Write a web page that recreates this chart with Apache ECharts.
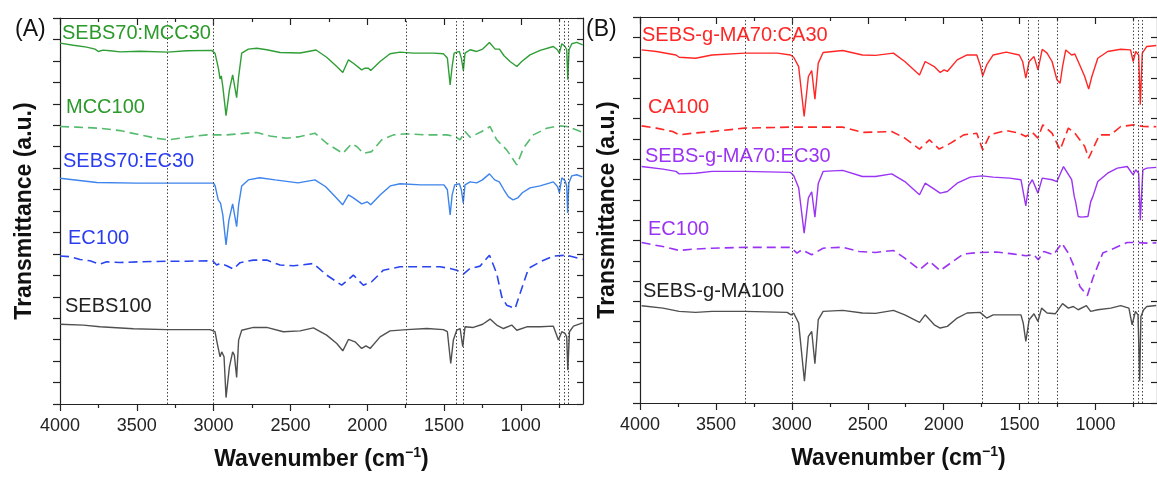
<!DOCTYPE html>
<html><head><meta charset="utf-8">
<script src="https://cdn.jsdelivr.net/npm/echarts@6/dist/echarts.min.js"></script>
<style>html,body{margin:0;padding:0;background:#fff}#c{width:1157px;height:477px}</style>
</head><body><div id="c"></div><script>
// ---------- DATA (wavenumber cm-1, transmittance a.u. with stacking offset) ----------
const majorTicks = [4000, 3500, 3000, 2500, 2000, 1500, 1000];
const minorTicks = [3750, 3250, 2750, 2250, 1750, 1250, 750];
const dottedA = [3300, 3000, 1745, 1421, 1375, 750, 717, 690];
const dottedB = [3310, 3000, 1745, 1443, 1378, 1255, 752, 718, 693];

// Panel A
const sebs70Mcc30 = [[4000,16.83],[3913,16.73],[3826,16.64],[3772,16.55],[3750,16.44],[3720,16.50],[3674,16.47],[3609,16.42],[3479,16.45],[3299,16.41],[3175,16.47],[3012,16.49],[2991,16.36],[2969,15.66],[2958,15.16],[2950,15.30],[2940,14.80],[2919,13.45],[2897,14.65],[2876,15.35],[2865,15.40],[2850,14.29],[2837,15.27],[2817,16.36],[2774,16.55],[2719,16.59],[2654,16.52],[2567,16.39],[2437,16.37],[2333,16.51],[2264,16.17],[2198,15.74],[2159,15.46],[2122,16.05],[2090,15.89],[2036,15.58],[2014,15.66],[1992,15.66],[1977,15.55],[1916,15.97],[1851,16.33],[1786,16.41],[1699,16.36],[1569,16.36],[1504,16.33],[1478,16.13],[1460,14.88],[1447,15.74],[1434,16.36],[1400,16.44],[1387,16.13],[1374,15.54],[1363,16.36],[1330,16.52],[1287,16.44],[1248,16.55],[1204,16.86],[1167,16.55],[1139,16.55],[1109,16.24],[1070,15.97],[1026,15.74],[994,15.97],[940,16.28],[874,16.49],[788,16.67],[762,16.52],[749,16.36],[733,16.80],[712,16.67],[701,16.52],[694,15.12],[686,16.52],[668,16.80],[636,16.86],[597,16.75]];
const mcc100 = [[4000,12.94],[3891,12.91],[3740,12.86],[3609,12.75],[3479,12.55],[3371,12.39],[3295,12.32],[3175,12.44],[3045,12.55],[2915,12.55],[2785,12.63],[2719,12.66],[2633,12.50],[2524,12.39],[2437,12.47],[2340,12.63],[2264,12.16],[2159,11.69],[2101,12.13],[2068,12.01],[2025,11.69],[1971,11.77],[1905,12.32],[1829,12.55],[1743,12.60],[1612,12.55],[1482,12.55],[1428,12.47],[1395,12.32],[1363,12.71],[1330,12.44],[1254,12.71],[1200,12.94],[1157,12.32],[1092,11.85],[1026,11.15],[983,11.93],[918,12.55],[831,12.86],[755,12.97],[701,12.94],[636,12.78],[597,12.66]];
const sebs70Ec30 = [[4000,10.53],[3760,10.33],[3500,10.30],[3000,10.30],[2990,10.17],[2970,9.52],[2955,9.37],[2940,8.82],[2919,7.42],[2900,8.59],[2876,9.33],[2866,9.38],[2850,8.27],[2837,9.29],[2817,10.17],[2774,10.45],[2700,10.55],[2600,10.45],[2450,10.31],[2340,10.45],[2270,10.13],[2200,9.61],[2160,9.29],[2122,9.75],[2090,9.61],[2036,9.33],[2000,9.43],[1977,9.29],[1916,9.75],[1850,10.17],[1786,10.27],[1650,10.22],[1500,10.22],[1478,9.99],[1460,8.82],[1447,9.75],[1430,10.22],[1400,10.27],[1387,9.99],[1375,9.38],[1363,10.22],[1330,10.36],[1287,10.31],[1250,10.45],[1204,10.73],[1170,10.45],[1140,10.36],[1110,9.99],[1080,9.66],[1050,9.52],[1020,9.61],[990,9.85],[940,10.08],[874,10.17],[788,10.36],[760,10.13],[749,9.85],[733,10.55],[712,10.41],[701,10.17],[695,8.91],[687,10.31],[668,10.64],[636,10.69],[600,10.59]];
const ec100A = [[4000,6.90],[3935,6.87],[3870,6.74],[3805,6.68],[3740,6.52],[3696,6.63],[3609,6.60],[3479,6.63],[3305,6.66],[3175,6.66],[3006,6.68],[2980,6.48],[2958,6.55],[2915,6.45],[2871,6.29],[2828,6.59],[2741,6.71],[2654,6.71],[2567,6.48],[2481,6.45],[2437,6.48],[2350,6.55],[2264,6.01],[2166,5.54],[2090,6.01],[2025,5.54],[1971,5.70],[1895,6.24],[1786,6.40],[1656,6.40],[1526,6.40],[1460,6.32],[1417,6.24],[1374,6.06],[1330,6.32],[1265,6.43],[1204,6.94],[1157,6.09],[1124,5.00],[1092,4.61],[1037,4.45],[1005,5.15],[950,6.32],[874,6.63],[788,6.90],[701,6.94],[597,6.74]];
const sebs100 = [[4000,3.72],[3848,3.68],[3740,3.60],[3522,3.51],[3305,3.47],[3023,3.47],[2991,3.37],[2976,2.82],[2958,2.20],[2947,2.43],[2932,2.20],[2919,0.30],[2897,1.73],[2876,2.43],[2865,2.28],[2850,1.24],[2837,2.98],[2817,3.44],[2741,3.57],[2654,3.57],[2546,3.37],[2437,3.41],[2350,3.55],[2264,3.21],[2198,2.82],[2159,2.48],[2122,3.01],[2079,2.90],[2036,2.59],[2008,2.71],[1981,2.59],[1916,3.13],[1851,3.41],[1743,3.47],[1612,3.52],[1504,3.47],[1478,3.37],[1456,1.89],[1439,2.98],[1417,3.44],[1395,3.52],[1378,2.67],[1363,3.60],[1309,3.57],[1248,3.72],[1200,3.96],[1157,3.68],[1113,3.52],[1059,3.68],[1026,3.44],[961,3.60],[874,3.60],[788,3.63],[755,2.98],[733,3.37],[712,3.29],[701,3.13],[694,1.58],[683,3.37],[657,3.63],[597,3.78]];

// Panel B
const maCa30 = [[3989,17.38],[3892,17.30],[3763,17.13],[3742,17.02],[3634,16.97],[3526,17.13],[3311,17.22],[3095,17.22],[3009,17.13],[2988,17.02],[2955,16.56],[2919,14.10],[2891,16.07],[2869,16.36],[2848,14.95],[2826,16.73],[2794,17.25],[2665,17.35],[2535,17.13],[2449,17.11],[2331,17.22],[2256,16.81],[2159,16.15],[2122,16.81],[2062,16.56],[2023,16.27],[1997,16.40],[1976,16.32],[1911,16.89],[1846,17.13],[1782,17.13],[1760,16.64],[1743,16.10],[1717,16.64],[1674,17.13],[1588,17.27],[1502,17.13],[1480,16.81],[1459,15.99],[1437,16.81],[1405,17.05],[1379,16.40],[1351,17.41],[1319,17.22],[1286,16.81],[1254,15.91],[1233,15.74],[1217,16.56],[1196,17.38],[1157,17.13],[1136,17.18],[1114,16.81],[1071,16.07],[1045,15.45],[1024,16.07],[985,16.97],[920,17.30],[834,17.41],[769,17.38],[752,16.81],[735,17.30],[716,17.13],[705,14.68],[692,17.22],[662,17.55],[600,17.60]];
const ca100 = [[3989,13.64],[3892,13.53],[3785,13.36],[3742,13.20],[3655,13.28],[3526,13.36],[3311,13.53],[3009,13.58],[2880,13.58],[2665,13.58],[2535,13.32],[2342,13.36],[2256,13.04],[2159,12.50],[2094,12.95],[2029,12.50],[1954,12.79],[1868,13.20],[1782,13.28],[1743,12.46],[1696,13.20],[1588,13.41],[1502,13.28],[1459,13.12],[1416,13.32],[1379,13.04],[1347,13.69],[1286,13.28],[1233,12.46],[1179,13.53],[1136,13.28],[1071,12.63],[1045,12.05],[974,13.20],[899,13.20],[834,13.61],[748,13.69],[683,13.61],[600,13.60]];
const maEc30 = [[3989,11.64],[3849,11.51],[3763,11.40],[3742,11.28],[3634,11.31],[3526,11.40],[3311,11.40],[3009,11.35],[2988,11.20],[2955,10.60],[2919,8.36],[2891,10.10],[2869,10.40],[2848,9.15],[2826,10.80],[2794,11.40],[2665,11.45],[2535,11.15],[2449,11.15],[2342,11.28],[2256,10.90],[2159,10.25],[2122,10.82],[2062,10.53],[2023,10.33],[1976,10.41],[1911,10.82],[1825,11.12],[1749,11.18],[1674,11.12],[1566,11.07],[1491,10.99],[1459,9.70],[1440,10.70],[1416,10.99],[1379,10.33],[1351,11.07],[1286,10.99],[1254,10.90],[1211,11.64],[1157,10.99],[1140,10.17],[1131,9.90],[1114,9.18],[1093,9.15],[1050,9.18],[1032,9.90],[1017,10.17],[985,10.90],[920,11.31],[856,11.56],[791,11.64],[752,11.23],[735,11.48],[716,11.31],[705,9.00],[688,11.48],[662,11.56],[600,11.60]];
const ec100B = [[3989,7.90],[3914,7.79],[3828,7.67],[3742,7.51],[3655,7.57],[3526,7.62],[3311,7.66],[3009,7.66],[2966,7.38],[2934,7.54],[2869,7.30],[2794,7.62],[2665,7.67],[2557,7.46],[2449,7.41],[2331,7.51],[2256,7.13],[2159,6.56],[2094,6.97],[2023,6.52],[1954,6.89],[1868,7.34],[1760,7.41],[1653,7.43],[1545,7.34],[1459,7.25],[1405,7.30],[1377,7.05],[1340,7.46],[1276,7.30],[1222,7.87],[1179,7.38],[1146,6.80],[1103,5.74],[1054,5.28],[1017,6.15],[952,7.38],[877,7.62],[791,7.90],[727,7.90],[662,7.87],[600,7.88]];
const maNeat = [[3989,4.79],[3849,4.67],[3742,4.51],[3634,4.46],[3526,4.51],[3311,4.51],[3031,4.46],[3005,4.34],[2988,4.43],[2955,3.93],[2917,1.07],[2891,3.28],[2869,3.52],[2848,1.93],[2826,4.10],[2794,4.51],[2665,4.56],[2535,4.43],[2449,4.41],[2331,4.56],[2256,4.34],[2159,3.97],[2122,4.34],[2062,3.85],[2023,3.69],[1976,3.77],[1911,4.18],[1846,4.43],[1760,4.46],[1717,4.18],[1674,4.34],[1566,4.34],[1491,4.34],[1476,3.93],[1459,3.03],[1437,4.10],[1405,4.39],[1379,4.02],[1355,4.67],[1319,4.43],[1265,4.39],[1217,4.89],[1179,4.67],[1146,4.75],[1114,4.59],[1060,4.79],[1032,4.51],[985,4.59],[899,4.67],[834,4.79],[780,4.67],[759,3.85],[737,4.51],[720,4.34],[709,1.07],[701,4.26],[683,4.59],[662,4.75],[600,4.80]];

// ---------- STYLE ----------
const FONT = '"Liberation Sans", Arial, sans-serif';
const AX = '#222';
const C = {
  green: '#2f9e36', greenDash: '#55bb6e', greenText: '#2b9a2b',
  blue: '#3d84ec', blueDash: '#2a45f0', blueText: '#2a3cf2',
  gray: '#505050', grayText: '#222',
  red: '#ff2626', purple: '#9b33f5'
};

function xAxes(g) {
  const base = {gridIndex: g, type: 'value', min: 595, max: 4000, inverse: true, splitLine: {show: false}};
  const ls = {color: AX, width: 1.2};
  return [
    Object.assign({}, base, {position: 'bottom',
      axisLine: {show: true, onZero: false, lineStyle: ls},
      axisTick: {show: true, inside: false, length: 7, customValues: majorTicks, lineStyle: ls},
      axisLabel: {show: true, customValues: majorTicks, fontSize: 18, color: AX, fontFamily: FONT, margin: 13,
        formatter: function (v) { return String(v); }},
      name: '{a|Wavenumber (cm}{s|−1}{a|)}', nameLocation: 'middle', nameGap: 42,
      nameTextStyle: {rich: {
        a: {fontSize: 23, fontWeight: 'bold', color: '#111', fontFamily: FONT, lineHeight: 28},
        s: {fontSize: 14, fontWeight: 'bold', color: '#111', fontFamily: FONT, lineHeight: 15, verticalAlign: 'top'}
      }}}),
    Object.assign({}, base, {position: 'bottom',
      axisLine: {show: false, onZero: false},
      axisTick: {show: true, inside: false, length: 4, customValues: minorTicks, lineStyle: ls},
      axisLabel: {show: false}}),
    Object.assign({}, base, {position: 'top',
      axisLine: {show: true, onZero: false, lineStyle: ls},
      axisTick: {show: true, inside: true, length: 7, customValues: majorTicks, lineStyle: ls},
      axisLabel: {show: false}}),
    Object.assign({}, base, {position: 'top',
      axisLine: {show: false, onZero: false},
      axisTick: {show: true, inside: true, length: 4, customValues: minorTicks, lineStyle: ls},
      axisLabel: {show: false}})
  ];
}
function yAxes(g, max, gap) {
  const ls = {color: AX, width: 1.2};
  return [
    {gridIndex: g, type: 'value', min: 0, max: max, interval: 1, position: 'left',
     axisLine: {show: true, onZero: false, lineStyle: ls},
     axisTick: {show: true, inside: false, length: 7, lineStyle: ls},
     axisLabel: {show: false}, splitLine: {show: false},
     name: 'Transmittance (a.u.)', nameLocation: 'middle', nameGap: gap,
     nameTextStyle: {fontSize: 23, fontWeight: 'bold', color: '#111', fontFamily: FONT}},
    {gridIndex: g, type: 'value', min: 0, max: max, interval: 1, position: 'right',
     axisLine: {show: true, onZero: false, lineStyle: ls},
     axisTick: {show: true, inside: true, length: 6, lineStyle: ls},
     axisLabel: {show: false}, splitLine: {show: false}}
  ];
}
function line(data, color, dashed, xi, yi, dots) {
  const s = {type: 'line', data: data, xAxisIndex: xi, yAxisIndex: yi, showSymbol: false, symbol: 'none',
    lineStyle: {color: color, width: dashed ? 1.6 : 1.4, type: dashed ? [9, 5] : 'solid'}, silent: true, z: 3};
  if (dots) {
    s.markLine = {symbol: 'none', silent: true, label: {show: false}, animation: false,
      lineStyle: {color: '#444', width: 1, type: [1.5, 2]},
      data: dots.map(w => ({xAxis: w}))};
  }
  return s;
}
function txt(x, y, t, color, size, weight) {
  return {type: 'text', x: x, y: y, silent: true, z: 10,
    style: {text: t, fill: color, fontSize: size || 20, fontFamily: FONT, fontWeight: weight || 'normal', verticalAlign: 'middle', align: 'left'}};
}

const chart = echarts.init(document.getElementById('c'), null, {renderer: 'canvas'});
chart.setOption({
  animation: false,
  backgroundColor: '#fff',
  grid: [
    {left: 60, top: 18, width: 523, height: 386},
    {left: 640, top: 17, width: 527, height: 386}
  ],
  xAxis: xAxes(0).concat(xAxes(1)),
  yAxis: yAxes(0, 18, 24).concat(yAxes(1, 19, 21)),
  series: [
    line(sebs70Mcc30, C.green, false, 0, 0, dottedA),
    line(mcc100, C.greenDash, true, 0, 0),
    line(sebs70Ec30, C.blue, false, 0, 0),
    line(ec100A, C.blueDash, true, 0, 0),
    line(sebs100, C.gray, false, 0, 0),
    line(maCa30, C.red, false, 4, 2, dottedB),
    line(ca100, C.red, true, 4, 2),
    line(maEc30, C.purple, false, 4, 2),
    line(ec100B, C.purple, true, 4, 2),
    line(maNeat, C.gray, false, 4, 2)
  ],
  graphic: [
    txt(15, 30, '(A)', '#111', 23),
    txt(62, 33, 'SEBS70:MCC30', C.greenText),
    txt(66, 107, 'MCC100', C.greenText),
    txt(63, 161, 'SEBS70:EC30', C.blueText),
    txt(68, 238, 'EC100', C.blueText),
    txt(65, 306, 'SEBS100', C.grayText),
    txt(586, 30, '(B)', '#111', 23),
    txt(642, 35, 'SEBS-g-MA70:CA30', C.red),
    txt(648, 107, 'CA100', C.red),
    txt(645, 156, 'SEBS-g-MA70:EC30', C.purple),
    txt(648, 229, 'EC100', C.purple),
    txt(643, 291, 'SEBS-g-MA100', C.grayText)
  ]
});
</script></body></html>
